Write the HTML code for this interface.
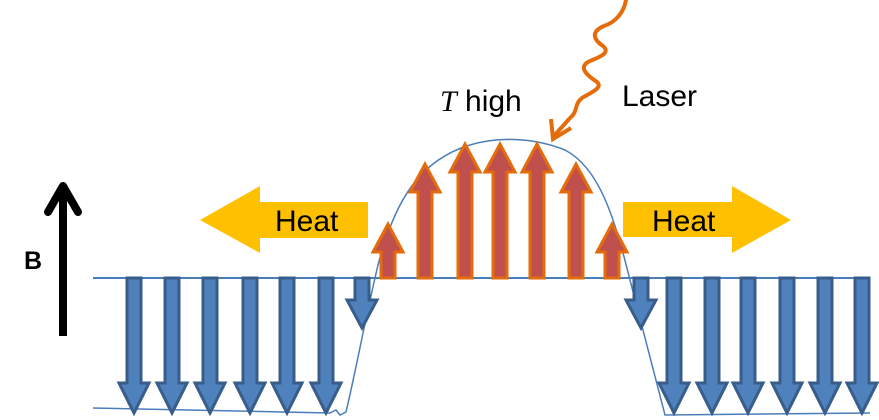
<!DOCTYPE html>
<html><head><style>body{margin:0;background:#fff}svg{display:block}</style></head>
<body>
<svg width="879" height="420" viewBox="0 0 879 420" xmlns="http://www.w3.org/2000/svg" font-family="Liberation Sans, sans-serif">
<defs>
<g id="dn"><polygon points="-7,0 7,0 7,105 15,105 0,135 -15,105 -7,105" fill="#4f81bd" stroke="#385d8a" stroke-width="3"/></g>
<g id="dns"><polygon points="-7,0 7,0 7,22 15,22 0,50 -15,22 -7,22" fill="#4f81bd" stroke="#385d8a" stroke-width="3"/></g>
</defs>
<line x1="93" y1="278" x2="870" y2="278" stroke="#4a7ebb" stroke-width="2"/>
<path d="M93,408 L330,413 L336,410 L340,415 L346,412 C356,370 365,320 378,265 C395,200 420,160 470,145 C500,136 535,138 565,150 C600,168 615,220 630,280 L665,415 L870,413" fill="none" stroke="#4a7ebb" stroke-width="1.5"/>
<use href="#dn" x="134" y="278"/><use href="#dn" x="172" y="278"/><use href="#dn" x="210" y="278"/>
<use href="#dn" x="250" y="278"/><use href="#dn" x="287" y="278"/><use href="#dn" x="326" y="278"/>
<use href="#dns" x="362" y="278"/>
<use href="#dns" x="641" y="278"/>
<use href="#dn" x="674" y="278"/><use href="#dn" x="712" y="278"/><use href="#dn" x="748" y="278"/>
<use href="#dn" x="787" y="278"/><use href="#dn" x="825" y="278"/><use href="#dn" x="862" y="278"/>
<g fill="#c0504d" stroke="#e46c0a" stroke-width="3">
<polygon points="381,278 395,278 395,252 403,252 388,224 373,252 381,252"/>
<polygon points="418,278 432,278 432,192 440,192 425,164 410,192 418,192"/>
<polygon points="458,278 472,278 472,172 480,172 465,144 450,172 458,172"/>
<polygon points="493,278 507,278 507,172 515,172 500,144 485,172 493,172"/>
<polygon points="530,278 544,278 544,172 552,172 537,144 522,172 530,172"/>
<polygon points="569,278 583,278 583,192 591,192 576,164 561,192 569,192"/>
<polygon points="605,278 619,278 619,252 627,252 612,224 597,252 605,252"/>
</g>
<polygon points="368,202 260,202 260,186 200,220 260,253 260,238 368,238" fill="#ffc000"/>
<text x="275" y="231" font-size="30" fill="#000">Heat</text>
<polygon points="623,202 732,202 732,186 791,220 732,253 732,237 623,237" fill="#ffc000"/>
<text x="652" y="231" font-size="30" fill="#000">Heat</text>
<line x1="63" y1="336" x2="63" y2="186" stroke="#000" stroke-width="8"/>
<polyline points="48,212 63,186 78,212" fill="none" stroke="#000" stroke-width="8" stroke-linecap="round" stroke-linejoin="round"/>
<text x="24" y="269" font-size="25" font-weight="bold" fill="#000">B</text>
<path d="M626,0 C624,12 616,22 604,26 C590,32 594,40 603,46 C612,54 596,58 588,62 C578,68 588,76 597,82 C604,88 588,94 582,98 C574,104 578,112 570,118 L553,137" fill="none" stroke="#e46c0a" stroke-width="4" stroke-linecap="round"/>
<polyline points="551,119 553,139 571,128" fill="none" stroke="#e46c0a" stroke-width="4"/>
<text x="622" y="106" font-size="30" fill="#000">Laser</text>
<text x="440" y="111" font-size="30" fill="#000"><tspan font-family="Liberation Serif, serif" font-style="italic">T</tspan> high</text>
</svg>
</body></html>
